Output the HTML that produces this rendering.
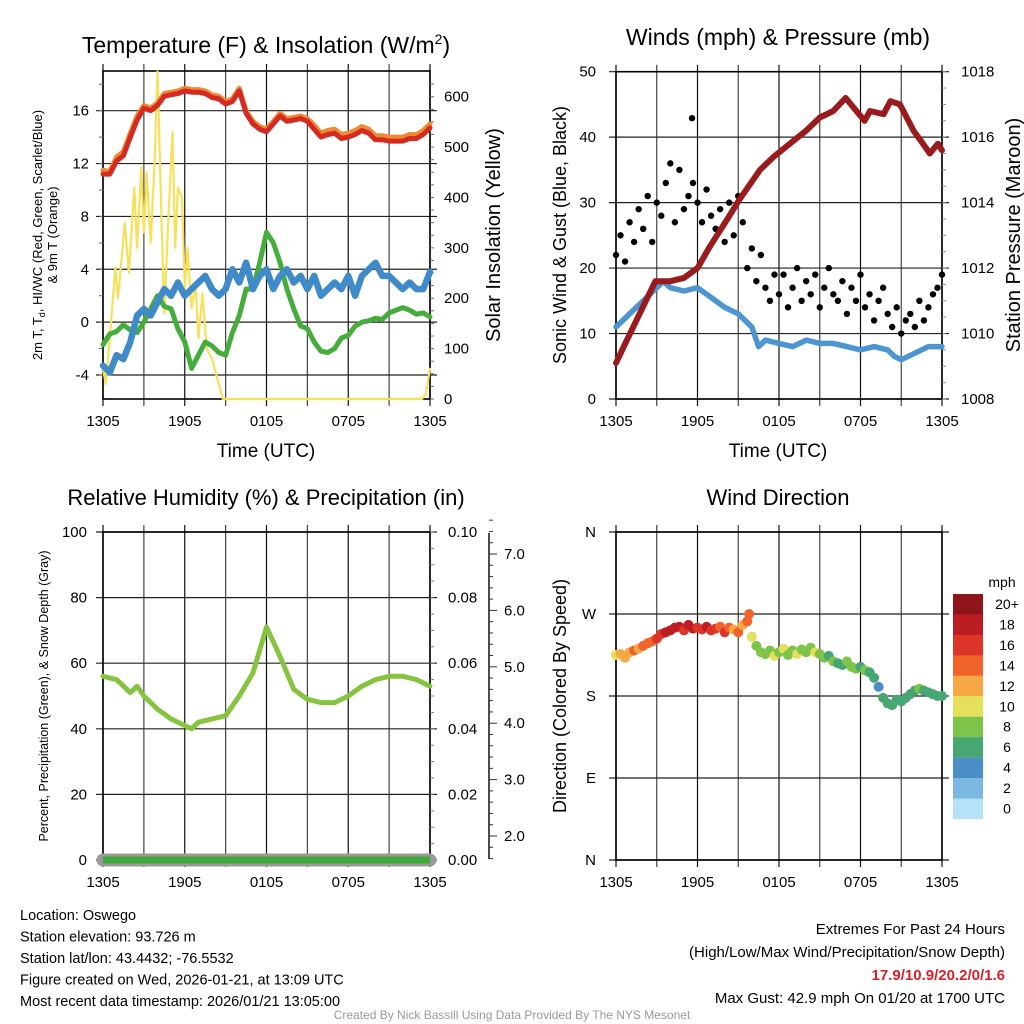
<!DOCTYPE html>
<html><head><meta charset="utf-8">
<style>
body{margin:0;background:#fff;}
svg{display:block;font-family:"Liberation Sans",Arial,sans-serif;}
</style></head>
<body>
<svg id="s" width="1024" height="1024" viewBox="0 0 1024 1024"></svg>
<script>
// ---------- DATA ----------
const xLabels = ["1305","1905","0105","0705","1305"];
const halfHours = []; for (let i=0;i<=48;i++) halfHours.push(i*0.5);
const tempF = [11.2,11.2,12.2,12.6,14.0,15.3,16.2,16.0,16.4,17.1,17.2,17.3,17.5,17.4,17.4,17.3,17.0,16.9,16.5,16.7,17.5,15.8,15.0,14.6,14.4,15.0,15.6,15.2,15.3,15.4,15.2,14.6,14.0,14.2,14.3,13.9,14.0,14.2,14.5,14.3,13.8,13.8,13.7,13.7,13.7,13.9,13.9,14.2,14.7];
const temp9m = [11.5,11.4,12.5,12.9,14.3,15.6,16.4,16.2,16.6,17.3,17.4,17.5,17.7,17.6,17.6,17.5,17.2,17.1,16.7,16.9,17.7,16.0,15.2,14.8,14.6,15.2,15.8,15.4,15.5,15.6,15.4,14.9,14.3,14.5,14.6,14.2,14.3,14.5,14.8,14.6,14.1,14.1,14.0,14.0,14.0,14.2,14.2,14.5,15.0];
const dewF = [-1.7,-0.9,-0.7,-0.2,-0.6,-0.8,0.0,1.0,2.0,1.2,1.0,-0.5,-1.5,-3.5,-2.5,-1.5,-1.8,-2.3,-2.5,-0.8,0.5,2.5,2.5,4.5,6.8,6.0,4.5,2.5,1.0,-0.3,-0.5,-1.5,-2.2,-2.3,-2.0,-1.2,-1.0,-0.3,0.0,0.1,0.3,0.2,0.7,0.9,1.1,0.9,0.6,0.7,0.4];
const windChillF = [-3.3,-3.8,-2.5,-2.8,-1.5,0.5,1.0,0.5,1.5,2.5,2.0,3.0,2.0,2.5,3.0,3.5,2.5,2.0,2.5,4.0,3.0,4.5,2.5,3.5,4.0,2.5,3.5,4.0,3.0,3.5,2.5,3.5,2.0,2.5,3.0,2.5,3.5,2.0,3.5,4.0,4.5,3.5,3.5,3.0,2.5,3.0,2.5,2.5,3.8];
const solarTimes = [0,0.2,0.5,0.9,1.1,1.6,1.9,2.3,2.5,2.8,3.0,3.2,3.5,3.8,4.0,4.3,4.5,4.8,5.1,5.3,5.5,5.8,6.0,6.2,6.5,6.8,7.0,7.3,7.6,8.0,8.4,8.8,23.4,23.7,24];
const solarVals = [60,30,120,260,200,350,250,420,300,460,330,450,310,480,650,350,170,360,530,300,420,400,220,300,180,230,120,210,100,80,40,0,0,10,60];
const windTimes = [0,1,2,3,3.5,4,5,6,7,8,9,10,10.5,11,12,13,14,15,16,17,18,19,20,20.5,21,22,23,24];
const windMph = [11,13,15,17,18,17,16.5,17,15.5,14,13,11,8,9,8.5,8,9,8.5,8.5,8,7.5,8,7.5,6.5,6,7,8,8];
const gustMph = [22,25,21,27,24,29,26,31,24,30,28,33,36,27,35,29,31,33,30,27,32,28,26,29,24,30,25,31,27,20,23,18,22,17,15,19,16,19,14,17,20,15,18,16,19,14,17,20,16,15,18,13,17,15,19,14,16,12,15,17,13,11,14,10,12,13,11,15,12,14,16,17,19];
const pressTimes = [0,0.8,1.5,2.9,4,5,6,6.9,8.2,9.1,10.6,11.6,13.1,14,15,16,16.9,17.7,18.3,18.7,19.7,20.2,20.9,21.9,22.6,23.1,23.7,24];
const pressMb = [1009.1,1009.8,1010.4,1011.6,1011.6,1011.7,1012.0,1012.65,1013.5,1014.1,1015.0,1015.4,1015.9,1016.2,1016.6,1016.8,1017.2,1016.8,1016.5,1016.8,1016.7,1017.1,1017.0,1016.2,1015.8,1015.5,1015.8,1015.6];
const rhTimes = [0,1,2,2.5,3,4,5,6,6.5,7,8,9,10,11,12,13,14,15,16,17,18,19,20,21,22,23,24];
const rhPct = [56,55,51,53,50,46,43,41,40,42,43,44,50,57,71,62,52,49,48,48,50,53,55,56,56,55,53];
const windDir = [225,226,222,228,230,232,235,238,240,243,248,250,252,255,256,252,258,254,255,253,256,252,254,256,250,255,253,250,258,262,245,235,228,226,230,224,228,232,225,230,226,231,228,233,228,226,222,224,218,216,214,218,212,210,212,208,206,200,190,178,172,170,176,174,178,182,186,188,186,184,182,180,180];
const windSpd = [11,12,13,12,14,13,14,15,15,16,17,18,19,19,18,17,18,19,17,16,18,17,16,15,16,14,13,14,12,15,11,9,8,8,9,10,9,10,8,9,10,8,9,8,11,9,8,7,8,7,7,8,9,8,7,8,7,6,5,6,6,7,7,6,6,7,7,8,7,6,7,7,6];
const legendLabels = ["20+","18","16","14","12","10","8","6","4","2","0"];
const legendColors = ["#8f151a","#bc1d24","#dd3528","#f0642a","#f5a844","#e5e05a","#7ec34a","#47a772","#4a8ec8","#7bb9e3","#b5e2f7"];

// ---------- HELPERS ----------
const S = document.getElementById('s');
const NS = 'http://www.w3.org/2000/svg';
function el(tag, a, parent){ const e=document.createElementNS(NS,tag); for(const k in a) e.setAttribute(k,a[k]); (parent||S).appendChild(e); return e; }
function txt(x,y,s,size,anchor,extra){ const e=el('text',Object.assign({x:x,y:y,'font-size':size,'text-anchor':anchor||'middle',fill:'#000'},extra||{})); e.textContent=s; return e; }
function lin(d0,d1,r0,r1){ return v=>r0+(v-d0)*(r1-r0)/(d1-d0); }
function poly(xs,ys,fx,fy,color,w,name){
  const p=xs.map((t,i)=>fx(t).toFixed(1)+','+fy(ys[i]).toFixed(1)).join(' ');
  const e=el('polyline',{points:p,fill:'none',stroke:color,'stroke-width':w,'stroke-linejoin':'round','stroke-linecap':'round'});
  
  
  return e;
}
function frame(x0,x1,y0,y1,yTicks,fy,name){
  const g=el('g',{});
  
  
  for(let i=0;i<=8;i++){ const x=x0+(x1-x0)*i/8; el('line',{x1:x,y1:y0-7,x2:x,y2:y1+7,stroke:i%2?'#444':'#111','stroke-width':1.2},g); }
  yTicks.forEach(v=>{ const y=fy(v); el('line',{x1:x0-7,y1:y,x2:x1+7,y2:y,stroke:'#222','stroke-width':1.2},g); });
  el('rect',{x:x0,y:y0,width:x1-x0,height:y1-y0,fill:'none',stroke:'#000','stroke-width':1.6},g);
  xLabels.forEach((l,i)=>{ txt(x0+(x1-x0)*i/4,y1+27,l,15); });
  return g;
}

// ---------- PANEL 1: Temperature ----------
(function(){
  const x0=103,x1=430,y0=71,y1=399;
  const fx=lin(0,24,x0,x1), fy=lin(-4,16,375,110.7), fs=lin(0,600,399,96.7);
  txt(266,53,"Temperature (F) & Insolation (W/m",23).innerHTML='Temperature (F) &amp; Insolation (W/m<tspan dy="-9" font-size="14">2</tspan><tspan dy="9">)</tspan>';
  frame(x0,x1,y0,y1,[-4,0,4,8,12,16],fy,'temp-plot-frame');
  [-4,0,4,8,12,16].forEach(v=>txt(x0-14,fy(v)+5,String(v),15,'end'));
  for(let v=-4;v<=18;v+=2) el('line',{x1:x0-4,y1:fy(v),x2:x0,y2:fy(v),stroke:'#666'});
  [0,100,200,300,400,500,600].forEach(v=>txt(x1+14,fs(v)+5,String(v),15,'start'));
  for(let v=0;v<=640;v+=25) el('line',{x1:x1,y1:fs(v),x2:x1+4,y2:fs(v),stroke:'#666'});
  const yl=txt(0,0,"2m T, T",13,'middle',{transform:'translate(42,235) rotate(-90)'});
  yl.innerHTML='2m T, T<tspan dy="3" font-size="9">d</tspan><tspan dy="-3">, HI/WC (Red, Green, Scarlet/Blue)</tspan>';
  txt(0,0,"& 9m T (Orange)",13,'middle',{transform:'translate(57,235) rotate(-90)'});
  txt(0,0,"Solar Insolation (Yellow)",20,'middle',{transform:'translate(500,235) rotate(-90)'});
  txt(266,457,"Time (UTC)",19);
  poly(solarTimes,solarVals,fx,fs,'#f7e15a',2.2,'solar-insolation-line');
  poly(halfHours,dewF,fx,fy,'#44ad3c',5,'dewpoint-line');
  poly(halfHours,windChillF,fx,fy,'#3f8ac8',6.5,'windchill-line');
  poly(halfHours,temp9m,fx,fy,'#f08a30',5,'temp-9m-line');
  poly(halfHours,tempF,fx,fy,'#d42a24',5,'temp-2m-line');
})();

// ---------- PANEL 2: Winds ----------
(function(){
  const x0=616,x1=942,y0=71.7,y1=399;
  const fx=lin(0,24,x0,x1), fy=lin(0,50,y1,y0), fp=lin(1008,1018,y1,y0);
  txt(778,45,"Winds (mph) & Pressure (mb)",23);
  frame(x0,x1,y0,y1,[0,10,20,30,40,50],fy,'wind-plot-frame');
  [0,10,20,30,40,50].forEach(v=>txt(x0-20,fy(v)+5,String(v),15,'end'));
  [1008,1010,1012,1014,1016,1018].forEach(v=>txt(x1+19,fp(v)+5,String(v),15,'start'));
  for(let v=1008;v<=1018;v+=0.5) el('line',{x1:x1,y1:fp(v),x2:x1+4,y2:fp(v),stroke:'#888'});
  txt(0,0,"Sonic Wind & Gust (Blue, Black)",18,'middle',{transform:'translate(566,235) rotate(-90)'});
  txt(0,0,"Station Pressure (Maroon)",20,'middle',{transform:'translate(1020,235) rotate(-90)'});
  txt(778,457,"Time (UTC)",19);
  poly(windTimes,windMph,fx,fy,'#4d95d0',5.5,'sustained-wind-line');
  gustMph.forEach((v,i)=>{
    const c=el('circle',{cx:fx(i/3),cy:fy(v),r:3.2,fill:'#000'});
    
    
  });
  const o=el('circle',{cx:fx(5.6),cy:fy(42.9),r:3.2,fill:'#000'});
  
  
  poly(pressTimes,pressMb,fx,fp,'#9a1b1e',6,'pressure-line');
})();

// ---------- PANEL 3: RH ----------
(function(){
  const x0=103,x1=430,y0=532,y1=860;
  const fx=lin(0,24,x0,x1), fy=lin(0,100,y1,y0);
  txt(266,505,"Relative Humidity (%) & Precipitation (in)",22);
  frame(x0,x1,y0,y1,[0,20,40,60,80,100],fy,'rh-plot-frame');
  [0,20,40,60,80,100].forEach(v=>txt(x0-16,fy(v)+5,String(v),15,'end'));
  ['0.00','0.02','0.04','0.06','0.08','0.10'].forEach((l,i)=>txt(448,fy(i*20)+5,l,15,'start'));
  for(let v=0;v<=100;v+=5) el('line',{x1:x1,y1:fy(v),x2:x1+4,y2:fy(v),stroke:'#777'});
  el('line',{x1:489,y1:533,x2:489,y2:859,stroke:'#000','stroke-width':1.4});
  const fsn=lin(2,7,836,554);
  for(let v=1.6;v<=7.61;v+=0.2){ const mj=Math.abs(v-Math.round(v))<0.01; el('line',{x1:489,y1:fsn(v),x2:mj?497:493,y2:fsn(v),stroke:'#333'}); }
  ['2.0','3.0','4.0','5.0','6.0','7.0'].forEach((l,i)=>txt(504,fsn(i+2)+5,l,15,'start'));
  txt(0,0,"Percent, Precipitation (Green), & Snow Depth (Gray)",12.5,'middle',{transform:'translate(48,696) rotate(-90)'});
  const sd=el('line',{x1:x0,y1:y1,x2:x1,y2:y1,stroke:'#9a9a9a','stroke-width':13,'stroke-linecap':'round'});
  
  
  const pr=el('line',{x1:x0,y1:y1,x2:x1,y2:y1,stroke:'#3daa3a','stroke-width':7});
  
  
  poly(rhTimes,rhPct,fx,fy,'#86c440',5,'relative-humidity-line');
})();

// ---------- PANEL 4: Wind Direction ----------
(function(){
  const x0=616,x1=942,y0=532,y1=860;
  const fx=lin(0,24,x0,x1), fy=lin(0,360,y1,y0);
  txt(778,505,"Wind Direction",22);
  frame(x0,x1,y0,y1,[0,90,180,270,360],fy,'direction-plot-frame');
  ['N','E','S','W','N'].forEach((l,i)=>txt(x0-20,fy(i*90)+5,l,15,'end'));
  txt(0,0,"Direction (Colored By Speed)",18,'middle',{transform:'translate(566,696) rotate(-90)'});
  function col(s){ const b=Math.min(10,Math.floor(s/2)); return legendColors[10-b]; }
  windDir.forEach((d,i)=>{
    const c=el('circle',{cx:fx(i/3),cy:fy(d),r:5,fill:col(windSpd[i])});
    
    
  });
  const oc=el('circle',{cx:fx(9.8),cy:fy(270),r:5,fill:col(14.5)});
  
  
  txt(1002,587,"mph",14);
  legendLabels.forEach((l,i)=>{
    const r=el('rect',{x:953,y:594+i*20.45,width:30,height:20.6,fill:legendColors[i]});
    
    
    txt(1007,594+i*20.45+15,l,14);
  });
})();

// ---------- FOOTER ----------
["Location: Oswego","Station elevation: 93.726 m","Station lat/lon: 43.4432; -76.5532","Figure created on Wed, 2026-01-21, at 13:09 UTC","Most recent data timestamp: 2026/01/21 13:05:00"].forEach((s,i)=>txt(20,920+i*21.5,s,14.5,'start'));
txt(1005,934,"Extremes For Past 24 Hours",15,'end');
txt(1005,957,"(High/Low/Max Wind/Precipitation/Snow Depth)",15,'end');
txt(1005,980,"17.9/10.9/20.2/0/1.6",15,'end',{fill:'#d4222a','font-weight':'bold'});
txt(1005,1003,"Max Gust: 42.9 mph On 01/20 at 1700 UTC",15,'end');
txt(512,1019,"Created By Nick Bassill Using Data Provided By The NYS Mesonet",12,'middle',{fill:'#999'});
</script>
</body></html>
